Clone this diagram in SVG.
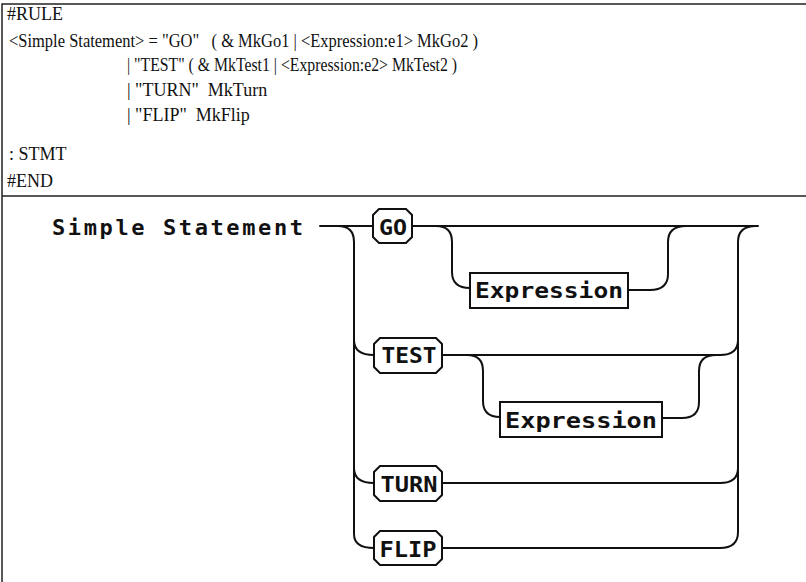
<svg xmlns="http://www.w3.org/2000/svg" width="806" height="582" viewBox="0 0 806 582">
<style>
.src{font-family:"Liberation Serif","Times New Roman",serif;font-size:18px;fill:#111;white-space:pre}
.lbl{font-family:"DejaVu Sans Mono","Liberation Mono",monospace;font-weight:bold;font-size:22px;fill:#111}
.wire{fill:none;stroke:#111;stroke-width:2;stroke-linecap:round;stroke-linejoin:round}
.box{fill:#fff;stroke:#111;stroke-width:2}
.frame{fill:none;stroke:#222;stroke-width:1.5}
</style>
<rect width="806" height="582" fill="#fff"/>
<!-- frame: grammar source above, syntax chart below -->
<g id="frame">
<path class="frame" d="M2,582 V4 H806 M2,196 H806"/>
</g>
<g id="source">
<text class="src" x="7" y="20">#RULE</text>
<text class="src" x="9" y="47" textLength="469" lengthAdjust="spacingAndGlyphs">&lt;Simple Statement&gt; = "GO"   ( &amp; MkGo1 | &lt;Expression:e1&gt; MkGo2 )</text>
<text class="src" x="127" y="71" textLength="330" lengthAdjust="spacingAndGlyphs">| "TEST" ( &amp; MkTest1 | &lt;Expression:e2&gt; MkTest2 )</text>
<text class="src" x="127" y="96" font-size="19">| "TURN"  MkTurn</text>
<text class="src" x="127" y="121" font-size="19">| "FLIP"  MkFlip</text>
<text class="src" x="9" y="160">: STMT</text>
<text class="src" x="7" y="187">#END</text>
</g>
<g id="connectors">
<!-- entry line and left distribution rail -->
<path class="wire" d="M320,226 H373"/>
<path class="wire" d="M338,226 Q354,226 354,242 V534 Q354,548 374,548"/>
<path class="wire" d="M354,340 Q354,355 374,355"/>
<path class="wire" d="M354,468 Q354,483 374,483"/>
<!-- GO path with optional Expression -->
<path class="wire" d="M412,226 H758"/>
<path class="wire" d="M436,226 Q452,226 452,242 V272 Q452,288 470,288"/>
<path class="wire" d="M628,290 H650 Q668,290 668,274 V242 Q668,226 686,226"/>
<!-- TEST path with optional Expression -->
<path class="wire" d="M442,355 H720 Q738,355 738,340"/>
<path class="wire" d="M467,355 Q483,355 483,371 V401 Q483,417 500,417"/>
<path class="wire" d="M662,418 H682 Q699,418 699,402 V371 Q699,355 716,355"/>
<!-- TURN and FLIP paths, right collecting rail -->
<path class="wire" d="M442,483 H720 Q738,483 738,468"/>
<path class="wire" d="M442,548 H720 Q738,548 738,532 V242 Q738,226 756,226"/>
</g>
<g id="head">
<text class="lbl" x="52" y="235" font-size="23" textLength="251" lengthAdjust="spacing">Simple Statement</text>
</g>
<g id="go">
<path class="box" d="M379,209 H406 L412,215 V237 L406,243 H379 L373,237 V215 Z"/>
<text class="lbl" x="393" y="235" text-anchor="middle" textLength="28" lengthAdjust="spacingAndGlyphs">GO</text>
</g>
<g id="expr1">
<rect class="box" x="470" y="273" width="158" height="35"/>
<text class="lbl" x="549" y="298" text-anchor="middle" textLength="148" lengthAdjust="spacingAndGlyphs">Expression</text>
</g>
<g id="test">
<path class="box" d="M380,338 H436 L442,344 V367 L436,373 H380 L374,367 V344 Z"/>
<text class="lbl" x="409" y="363" text-anchor="middle" textLength="55" lengthAdjust="spacingAndGlyphs">TEST</text>
</g>
<g id="expr2">
<rect class="box" x="500" y="402" width="162" height="35"/>
<text class="lbl" x="581" y="428" text-anchor="middle" textLength="152" lengthAdjust="spacingAndGlyphs">Expression</text>
</g>
<g id="turn">
<path class="box" d="M380,466 H436 L442,472 V495 L436,501 H380 L374,495 V472 Z"/>
<text class="lbl" x="409" y="492" text-anchor="middle" textLength="57" lengthAdjust="spacingAndGlyphs">TURN</text>
</g>
<g id="flip">
<path class="box" d="M380,531 H436 L442,537 V559 L436,565 H380 L374,559 V537 Z"/>
<text class="lbl" x="408" y="557" text-anchor="middle" textLength="57" lengthAdjust="spacingAndGlyphs">FLIP</text>
</g>
</svg>
